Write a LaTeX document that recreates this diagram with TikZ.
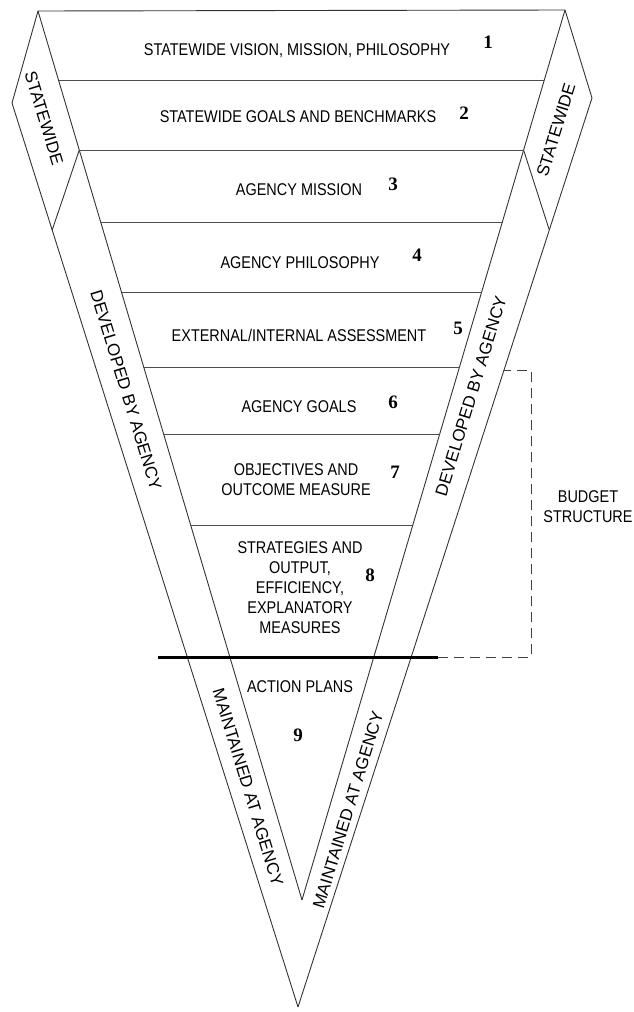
\documentclass[tikz,border=0pt]{standalone}
\usepackage{fontspec}
\setmainfont{Liberation Sans}
\newfontfamily\narrowsans[FakeStretch=0.85]{Liberation Sans}
\newfontfamily\numserif{Liberation Serif}
\usepackage{tikz}
\usetikzlibrary{
  	positioning,
  	calc
  }
\newcommand{\lvlfont}{\narrowsans\fontsize{8.5}{10}\selectfont}
\newcommand{\sidefont}{\fontsize{8.5}{10}\selectfont}
\newcommand{\numfont}{\numserif\bfseries\fontsize{9.5}{11}\selectfont}
\tikzstyle{edge}=[draw=black!80,line width=0.45pt]
\tikzstyle{rowline}=[draw=black!70,line width=0.4pt]
\tikzstyle{lvl}=[font=\lvlfont,align=center,inner sep=0pt]
\tikzstyle{num}=[font=\numfont,inner sep=0pt]
\tikzstyle{side}=[font=\sidefont,inner sep=0pt]
\tikzstyle{bracket}=[draw=black!75,line width=0.5pt,dash pattern=on 5pt off 3pt]

\begin{document}
\begin{tikzpicture}[x=0.5pt,y=-0.5pt]
  	\useasboundingbox (0,0) rectangle (633,1012);
	% corners of the funnel
	\coordinate (tl) at (38,11);
	\coordinate (tr) at (565,10);
	\coordinate (apex) at (302,900);
	\coordinate (lv) at (12,103);
	\coordinate (rv) at (592,98);
	\coordinate (bot) at (298,1007);
	\coordinate (lin) at (79.3,150);
	\coordinate (lout) at (52.2,230);
	\coordinate (rin) at (523.6,150);
	\coordinate (rout) at (549.3,230);
	% ends of the level lines
	\coordinate (r2l) at (58.5,80);   \coordinate (r2r) at (544.3,80);
	\coordinate (r4l) at (100.7,222); \coordinate (r4r) at (502.4,222);
	\coordinate (r5l) at (121.5,292); \coordinate (r5r) at (481.7,292);
	\coordinate (r6l) at (143.8,367); \coordinate (r6r) at (459.5,367);
	\coordinate (r7l) at (163.7,434); \coordinate (r7r) at (439.7,434);
	\coordinate (r8l) at (190.7,525); \coordinate (r8r) at (412.8,525);
	% budget line and bracket
	\coordinate (cutl) at (158,657);
	\coordinate (cutr) at (438,657);
	\coordinate (bk1) at (531,657);
	\coordinate (bk2) at (531,370);
	\coordinate (bk3) at (504,370);

	\draw[edge] (tl) to (tr);
	\draw[edge] (tl) to (apex);
	\draw[edge] (tr) to (apex);
	\draw[edge] (lv) to (bot);
	\draw[edge] (rv) to (bot);
	\draw[edge] (tl) to (lv);
	\draw[edge] (tr) to (rv);
	\draw[edge] (lin) to (lout);
	\draw[edge] (rin) to (rout);

	\draw[rowline] (r2l) to (r2r);
	\draw[rowline] (lin) to (rin);
	\draw[rowline] (r4l) to (r4r);
	\draw[rowline] (r5l) to (r5r);
	\draw[rowline] (r6l) to (r6r);
	\draw[rowline] (r7l) to (r7r);
	\draw[rowline] (r8l) to (r8r);

	\draw[line width=1.5pt] (cutl) to (cutr);
	\draw[bracket] (cutr) -- (bk1) -- (bk2) -- (bk3);

	\node[lvl] (vision) at (297,51) {STATEWIDE VISION, MISSION, PHILOSOPHY};
	\node[lvl] (goals) at (298,117) {STATEWIDE GOALS AND BENCHMARKS};
	\node[lvl] (mission) at (299,190) {AGENCY MISSION};
	\node[lvl] (philo) at (300,263) {AGENCY PHILOSOPHY};
	\node[lvl] (assess) at (299,335) {EXTERNAL/INTERNAL ASSESSMENT};
	\node[lvl] (agoals) at (299,407) {AGENCY GOALS};
	\node[lvl] (objectives) at (296,480) {OBJECTIVES AND\\OUTCOME MEASURE};
	\node[lvl] (strategies) at (300,588) {STRATEGIES AND\\OUTPUT,\\EFFICIENCY,\\EXPLANATORY\\MEASURES};
	\node[lvl] (action) at (300,687) {ACTION PLANS};
	\node[lvl] (budget) at (588,507) {BUDGET\\STRUCTURE};

	\node[num] (n1) at (488,42) {1};
	\node[num] (n2) at (464,113) {2};
	\node[num] (n3) at (393,184) {3};
	\node[num] (n4) at (417,255) {4};
	\node[num] (n5) at (458,328) {5};
	\node[num] (n6) at (393,402) {6};
	\node[num] (n7) at (395,472) {7};
	\node[num] (n8) at (370,575) {8};
	\node[num] (n9) at (298,735) {9};

	\node[side,rotate=-73] (swl) at (44,118) {STATEWIDE};
	\node[side,rotate=73] (swr) at (556,130) {STATEWIDE};
	\node[side,rotate=-73] (devl) at (126,390) {DEVELOPED BY AGENCY};
	\node[side,rotate=73] (devr) at (471,396) {DEVELOPED BY AGENCY};
	\node[side,rotate=-73] (mntl) at (248,787) {MAINTAINED AT AGENCY};
	\node[side,rotate=73] (mntr) at (348,810) {MAINTAINED AT AGENCY};
\end{tikzpicture}
\end{document}
